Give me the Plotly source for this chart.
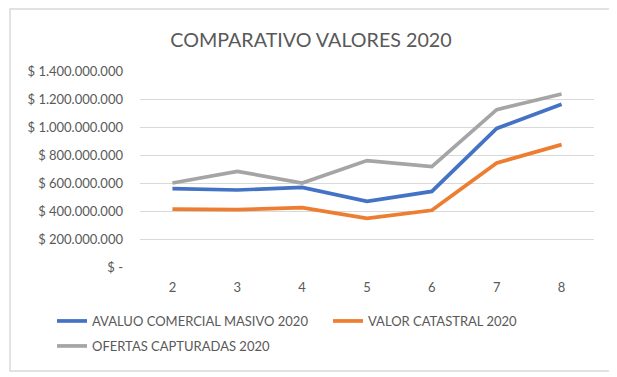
import plotly.graph_objects as go

categories = [2, 3, 4, 5, 6, 7, 8]
avaluo_comercial = [560e6, 550e6, 569e6, 469e6, 540e6, 990e6, 1162e6]
valor_catastral = [414e6, 410e6, 424e6, 348e6, 405e6, 743e6, 874e6]
ofertas_capturadas = [600e6, 683e6, 600e6, 760e6, 717e6, 1124e6, 1236e6]

series_names = ["AVALUO COMERCIAL MASIVO 2020", "VALOR CATASTRAL 2020", "OFERTAS CAPTURADAS 2020"]
series_colors = ["#4472C4", "#ED7D31", "#A5A5A5"]
series_legends = ["legend", "legend", "legend2"]

y_tickvals = [0, 200e6, 400e6, 600e6, 800e6, 1000e6, 1200e6, 1400e6]
y_ticktext = ["$ -", "$ 200.000.000", "$ 400.000.000", "$ 600.000.000",
              "$ 800.000.000", "$ 1.000.000.000", "$ 1.200.000.000", "$ 1.400.000.000"]

FONT = "Lato"
TXT = "#595959"

fig = go.Figure()
for name, vals, col, lg in zip(series_names,
                               [avaluo_comercial, valor_catastral, ofertas_capturadas],
                               series_colors, series_legends):
    fig.add_trace(go.Scatter(x=categories, y=vals, mode="lines", name=name, legend=lg,
                             line=dict(color=col, width=3.7)))

legend_common = dict(orientation="h", xref="paper", yref="paper",
                     x=-0.1938, xanchor="left", yanchor="top",
                     entrywidth=231, entrywidthmode="pixels",
                     font=dict(size=13, color=TXT, family=FONT),
                     bgcolor="rgba(0,0,0,0)")

fig.update_layout(
    width=617, height=377,
    margin=dict(l=132, r=31, t=63, b=118, autoexpand=False),
    paper_bgcolor="white", plot_bgcolor="white",
    font=dict(family=FONT, color=TXT, size=13),
    title=dict(text="COMPARATIVO VALORES 2020", x=303/617, xanchor="center",
               y=1 - 32/377, yanchor="middle",
               font=dict(family=FONT, size=19.7, color=TXT)),
    xaxis=dict(range=[1.5, 8.5], tickvals=categories, showgrid=False, zeroline=False,
               showline=False, ticks="", ticklabelstandoff=11, tickfont=dict(size=13, color=TXT)),
    yaxis=dict(range=[0, 1.4e9], tickvals=y_tickvals, ticktext=y_ticktext,
               showgrid=True, gridcolor="#D9D9D9", gridwidth=1, zeroline=False,
               showline=False, ticks="", ticklabelstandoff=16,
               tickfont=dict(size=13, color=TXT)),
    legend=dict(legend_common, y=-0.199),
    legend2=dict(legend_common, y=-0.3265),
    shapes=[dict(type="rect", xref="paper", yref="paper",
                 x0=-0.2863, x1=1.0396, y0=-0.5306, y1=1.3163,
                 line=dict(color="#D9D9D9", width=1.5), layer="below")],
)

fig.write_html("out.html")
